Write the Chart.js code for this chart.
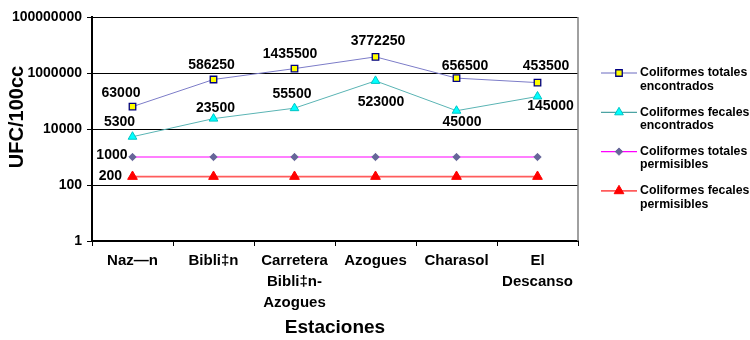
<!DOCTYPE html>
<html>
<head>
<meta charset="utf-8">
<script src="https://cdn.jsdelivr.net/npm/chart.js@4/dist/chart.umd.min.js"></script>
<style>
  html, body { margin: 0; padding: 0; background: #fff; }
  canvas { display: block; }
</style>
</head>
<body>
<canvas id="c" width="750" height="340"></canvas>
<script>
// Stations along the river (multi-line category labels)
const categories = [
  'Naz—n',
  'Bibli‡n',
  ['Carretera', 'Bibli‡n-', 'Azogues'],
  'Azogues',
  'Charasol',
  ['El', 'Descanso']
];

// Coliform counts, UFC/100cc
const totalesEncontrados = [63000, 586250, 1435500, 3772250, 656500, 453500];
const fecalesEncontrados = [5300, 23500, 55500, 523000, 45000, 145000];
const totalesPermisibles = [1000, 1000, 1000, 1000, 1000, 1000];
const fecalesPermisibles = [200, 200, 200, 200, 200, 200];

// Logarithmic axis ticks
const yTicks = [1, 100, 10000, 1000000, 100000000];

const FONT = "'Liberation Sans', Arial, Helvetica, sans-serif";

// Value-label placement relative to each point: [dx, dy] (null = no label)
const labelStyle = [
  { align: 'center', offsets: [[-11.5, -13.5], [-2, -14], [-4.5, -14.5], [2.5, -15.5], [8.5, -11.5], [8.5, -16]] },
  { align: 'center', offsets: [[-13, -14.5], [2, -10], [-2.5, -14], [5.5, 21], [5.5, 11], [13, 10]] },
  { align: 'right',  offsets: [[-5, -1.5], null, null, null, null, null] },
  { align: 'right',  offsets: [[-10.5, 0], null, null, null, null, null] }
];

function drawMarker(ctx, style, x, y, r, fill, stroke, bw) {
  ctx.save();
  ctx.beginPath();
  if (style === 'rect') {
    const s = Math.SQRT1_2 * r;
    ctx.rect(x - s, y - s, 2 * s, 2 * s);
  } else if (style === 'triangle') {
    ctx.moveTo(x, y - r);
    ctx.lineTo(x + Math.sin(2 * Math.PI / 3) * r, y + r / 2);
    ctx.lineTo(x - Math.sin(2 * Math.PI / 3) * r, y + r / 2);
    ctx.closePath();
  } else if (style === 'rectRot') {
    ctx.moveTo(x - r, y);
    ctx.lineTo(x, y - r);
    ctx.lineTo(x + r, y);
    ctx.lineTo(x, y + r);
    ctx.closePath();
  }
  ctx.fillStyle = fill;
  ctx.fill();
  ctx.lineWidth = bw;
  ctx.strokeStyle = stroke;
  ctx.stroke();
  ctx.restore();
}

const decorations = {
  id: 'decorations',
  afterDatasetsDraw(chart) {
    const ctx = chart.ctx;
    const area = chart.chartArea;

    // right frame line of the plot area
    ctx.save();
    ctx.strokeStyle = '#808080';
    ctx.lineWidth = 1.5;
    ctx.beginPath();
    ctx.moveTo(area.right, area.top);
    ctx.lineTo(area.right, area.bottom);
    ctx.stroke();
    ctx.restore();

    // value labels
    ctx.save();
    ctx.font = 'bold 14px ' + FONT;
    ctx.fillStyle = '#000';
    ctx.textBaseline = 'middle';
    chart.data.datasets.forEach((ds, di) => {
      const meta = chart.getDatasetMeta(di);
      const st = labelStyle[di];
      ctx.textAlign = st.align;
      meta.data.forEach((pt, i) => {
        const off = st.offsets[i];
        if (!off) return;
        ctx.fillText(String(ds.data[i]), pt.x + off[0], pt.y + off[1]);
      });
    });
    ctx.restore();

    // y axis title
    ctx.save();
    ctx.translate(17, 117);
    ctx.rotate(-Math.PI / 2);
    ctx.font = 'bold 20px ' + FONT;
    ctx.fillStyle = '#000';
    ctx.textAlign = 'center';
    ctx.textBaseline = 'middle';
    ctx.fillText('UFC/100cc', 0, 0);
    ctx.restore();

    // legend
    ctx.save();
    const lx0 = 601, lx1 = 637, tx = 640;
    chart.data.datasets.forEach((ds, di) => {
      const y = 73 + di * 39.3;
      ctx.strokeStyle = ds.legendLine || ds.borderColor;
      ctx.lineWidth = ds.borderWidth;
      ctx.beginPath();
      ctx.moveTo(lx0, y);
      ctx.lineTo(lx1, y);
      ctx.stroke();
      drawMarker(ctx, ds.pointStyle, (lx0 + lx1) / 2, y, ds.pointRadius,
        ds.pointBackgroundColor, ds.pointBorderColor, ds.pointBorderWidth);
      ctx.font = 'bold 12.3px ' + FONT;
      ctx.fillStyle = '#000';
      ctx.textAlign = 'left';
      ctx.textBaseline = 'middle';
      ds.label.forEach((line, li) => ctx.fillText(line, tx, y + li * 13.5));
    });
    ctx.restore();
  }
};

new Chart(document.getElementById('c'), {
  type: 'line',
  data: {
    labels: categories,
    datasets: [
      {
        label: ['Coliformes totales', 'encontrados'],
        data: totalesEncontrados,
        borderColor: '#7c7cc8',
        legendLine: '#6a6ac0',
        borderWidth: 1,
        pointStyle: 'rect',
        pointRadius: 4.6,
        pointBackgroundColor: '#ffff00',
        pointBorderColor: '#000080',
        pointBorderWidth: 1.3
      },
      {
        label: ['Coliformes fecales', 'encontrados'],
        data: fecalesEncontrados,
        borderColor: '#5ab4b4',
        legendLine: '#208c8c',
        borderWidth: 1,
        pointStyle: 'triangle',
        pointRadius: 5,
        pointBackgroundColor: '#00ffff',
        pointBorderColor: '#00c4c4',
        pointBorderWidth: 1
      },
      {
        label: ['Coliformes totales', 'permisibles'],
        data: totalesPermisibles,
        borderColor: '#ff00ff',
        borderWidth: 1.2,
        pointStyle: 'rectRot',
        pointRadius: 3.7,
        pointBackgroundColor: '#666699',
        pointBorderColor: '#666699',
        pointBorderWidth: 1
      },
      {
        label: ['Coliformes fecales', 'permisibles'],
        data: fecalesPermisibles,
        borderColor: '#ff5c5c',
        borderWidth: 1.8,
        pointStyle: 'triangle',
        pointRadius: 5.6,
        pointBackgroundColor: '#ff0000',
        pointBorderColor: '#ff0000',
        pointBorderWidth: 1
      }
    ]
  },
  options: {
    responsive: false,
    devicePixelRatio: 1,
    animation: false,
    layout: { padding: { top: 17, right: 172, left: 0, bottom: 0 } },
    elements: { line: { tension: 0 } },
    plugins: {
      legend: { display: false },
      tooltip: { enabled: false },
      title: { display: false }
    },
    scales: {
      x: {
        type: 'category',
        offset: true,
        grid: {
          display: true,
          drawOnChartArea: false,
          drawTicks: true,
          tickLength: 5,
          offset: true,
          color: '#000',
          lineWidth: 1
        },
        border: { display: true, color: '#000', width: 2 },
        ticks: {
          color: '#000',
          font: { family: FONT, size: 15, weight: 'bold', lineHeight: 1.37 },
          padding: 5,
          maxRotation: 0,
          autoSkip: false
        },
        title: {
          display: true,
          text: 'Estaciones',
          color: '#000',
          font: { family: FONT, size: 19, weight: 'bold' },
          padding: { top: 0, bottom: 1 }
        },
        afterFit(scale) { scale.height = 99; }
      },
      y: {
        type: 'logarithmic',
        min: 1,
        max: 100000000,
        afterBuildTicks(scale) {
          scale.ticks = yTicks.map(v => ({ value: v }));
        },
        grid: {
          color: '#000',
          lineWidth: 1,
          drawTicks: true,
          tickLength: 5
        },
        border: { display: true, color: '#000', width: 2 },
        ticks: {
          color: '#000',
          font: { family: FONT, size: 14, weight: 'bold' },
          padding: 5,
          callback: (v) => String(v)
        },
        afterFit(scale) { scale.width = 92; }
      }
    }
  },
  plugins: [decorations]
});
</script>
</body>
</html>
